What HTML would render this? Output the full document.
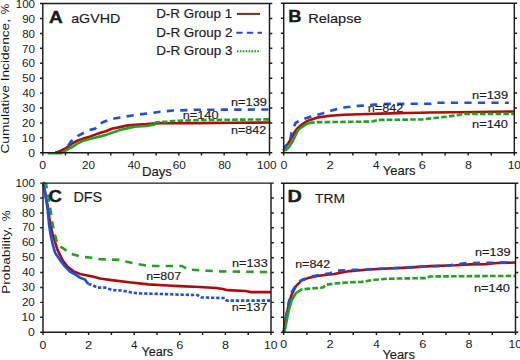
<!DOCTYPE html>
<html><head><meta charset="utf-8"><style>
html,body{margin:0;padding:0;background:#fff;}
svg{display:block;}
text{font-family:"Liberation Sans",sans-serif;}
</style></head><body>
<svg width="520" height="360" viewBox="0 0 520 360">
<rect width="520" height="360" fill="#fff"/>
<polyline points="55.27,152.20 57.76,152.05 60.94,150.71 65.47,148.47 68.87,146.08 71.59,143.99 77.26,140.71 83.15,138.62 88.82,136.98 94.49,134.89 100.38,132.80 106.05,131.31 111.72,128.77 119.88,127.13 126.68,125.64 134.61,124.74 146.18,124.14 160.00,123.10 173.15,123.25 196.96,123.10 235.50,122.80 269.50,122.50" stroke="#b00a0a" stroke-width="2.6" fill="none" stroke-linejoin="round"/>
<polyline points="68.19,145.64 70.91,141.46 77.94,135.79 88.37,130.41 95.17,128.62 99.93,123.70 104.01,121.76 109.22,119.67 114.21,118.47 124.87,116.68 136.88,114.74 149.58,113.25 160.00,111.76 173.15,110.56 196.96,109.82 224.16,109.67 269.50,109.52" stroke="#1f50dc" stroke-width="2.6" fill="none" stroke-linejoin="round" stroke-dasharray="7.2 6.3"/>
<polyline points="47.79,153.25 61.39,153.10 66.83,149.96 72.27,146.98 77.26,143.70 83.15,140.86 88.82,139.22 94.49,137.73 100.38,136.38 106.05,134.89 111.94,132.80 119.88,130.11 126.68,128.47 134.61,126.68 146.18,125.94 154.11,124.74 154.79,123.40" stroke="#24a024" stroke-width="2.6" fill="none" stroke-linejoin="round"/>
<polyline points="154.79,123.40 155.24,122.50 167.49,121.61 173.15,121.01 201.49,119.97 269.50,119.37" stroke="#24a024" stroke-width="2.6" fill="none" stroke-linejoin="round" stroke-dasharray="5.6 2.2"/>
<polyline points="283.70,150.56 284.85,147.57 288.31,143.23 291.54,137.99 294.31,132.76 296.84,128.87 301.23,124.98 306.53,121.39 309.99,119.90 318.52,117.36 330.05,115.71 343.89,114.81 368.33,114.07 379.86,113.62 406.84,113.02 430.13,112.57 477.40,111.97 514.30,111.52" stroke="#b00a0a" stroke-width="2.6" fill="none" stroke-linejoin="round"/>
<polyline points="283.70,150.56 284.85,146.97 287.16,144.57 289.93,141.14 291.54,132.76 294.08,126.63 295.69,122.74 301.92,119.60 312.52,116.01 323.13,113.17 333.51,110.03 342.50,107.49 348.27,107.04 358.64,105.84 374.10,104.64 387.47,103.90 431.28,103.75 433.59,102.70 508.77,102.70" stroke="#1f50dc" stroke-width="2.6" fill="none" stroke-linejoin="round" stroke-dasharray="7.2 6.3"/>
<polyline points="283.70,150.56 286.24,149.81 289.46,146.37 292.69,141.14 295.69,134.85 298.00,130.07 301.00,127.68 306.30,124.09 309.07,123.19" stroke="#24a024" stroke-width="2.6" fill="none" stroke-linejoin="round"/>
<polyline points="309.07,123.19 309.99,122.89 316.68,122.14 340.20,121.99 372.48,121.54 378.25,119.90 422.06,119.45 426.67,118.85 447.43,116.61 458.96,114.96 463.57,113.92 514.30,113.92" stroke="#24a024" stroke-width="2.6" fill="none" stroke-linejoin="round" stroke-dasharray="5.6 2.2"/>
<polyline points="43.00,183.10 43.91,184.59 45.74,195.77 48.24,208.89 50.07,223.36 52.58,233.79 55.08,242.14 57.59,250.19 62.61,260.18 67.40,266.45 73.78,271.52 79.94,273.90 92.48,276.44 100.00,278.52 111.40,280.16 128.96,282.25 148.34,284.34 167.72,285.53 179.80,286.13 199.41,287.02 216.28,288.07 222.89,288.96 227.68,290.15 245.92,291.05 250.48,292.09 271.00,292.09" stroke="#b00a0a" stroke-width="2.6" fill="none" stroke-linejoin="round"/>
<polyline points="43.00,183.10 44.14,187.57 47.56,208.89 49.16,225.59 50.75,235.43 53.03,245.72 55.08,252.73 60.10,260.18 64.89,266.45 69.90,271.52 76.29,275.09 79.94,277.63 84.95,279.57 86.78,282.25 88.37,283.89" stroke="#1f50dc" stroke-width="2.6" fill="none" stroke-linejoin="round"/>
<polyline points="88.37,283.89 92.48,285.08 97.49,287.62 105.02,287.62 112.54,290.15 121.20,290.45 128.96,291.94 136.71,293.28 158.14,293.88 179.80,294.63 197.58,295.07 201.46,297.46 224.72,298.06 226.77,300.59 271.00,300.59" stroke="#1f50dc" stroke-width="2.6" fill="none" stroke-linejoin="round" stroke-dasharray="3.3 1.9"/>
<polyline points="43.00,183.10 44.14,183.10 46.19,184.59 47.79,193.54 50.07,206.96 52.35,223.36 55.08,235.28 56.68,241.25 58.05,244.68 62.38,247.96 68.08,251.69 73.32,254.52 83.36,257.05 89.97,257.50 94.98,258.69 99.77,259.14 111.40,259.59 121.20,259.89 125.08,261.38 134.66,263.46 144.46,265.25 154.26,266.00 173.64,266.00 182.08,266.00 188.01,269.58 204.88,270.62 218.79,271.37 271.00,272.11" stroke="#24a024" stroke-width="2.6" fill="none" stroke-linejoin="round" stroke-dasharray="7.4 6.2"/>
<polyline points="283.70,332.20 285.00,323.41 286.90,313.57 288.89,303.88 291.81,294.19 295.75,286.44 301.55,280.63 309.20,277.65 318.93,275.71 334.00,273.92 349.76,271.09 369.00,269.45 388.24,268.56 407.48,267.66 430.43,266.17 455.23,265.28 470.53,264.38 485.37,264.23 496.96,263.04 515.50,262.44" stroke="#b00a0a" stroke-width="2.6" fill="none" stroke-linejoin="round"/>
<polyline points="283.70,332.20 285.00,322.51 286.90,312.08 288.89,301.64 291.81,291.96 295.75,285.25 301.55,280.03 309.20,277.05 318.93,274.96 330.06,273.18 337.71,270.64 353.24,269.90 376.42,269.00 399.60,267.81 422.78,266.62 445.96,265.72 466.82,263.04 492.32,262.74 515.50,262.44" stroke="#1f50dc" stroke-width="2.6" fill="none" stroke-linejoin="round" stroke-dasharray="7.2 6.3"/>
<polyline points="283.70,332.20 285.00,329.22 286.90,319.68 288.89,309.84 291.81,300.15 295.75,293.30 297.61,292.06" stroke="#24a024" stroke-width="2.6" fill="none" stroke-linejoin="round"/>
<polyline points="297.61,292.06 301.55,289.42 313.14,288.38 322.87,287.49 325.89,284.80 334.00,283.61 349.76,282.27 361.35,281.97 372.94,280.03 388.01,278.69 425.10,278.09 429.73,276.46 515.50,275.86" stroke="#24a024" stroke-width="2.6" fill="none" stroke-linejoin="round" stroke-dasharray="5.6 2.2"/>
<path d="M40.00,3.55H272.30M40.00,152.80H272.30M42.80,3.55V155.60M269.50,3.55V155.60M40.00,137.88h2.80M269.50,137.88h2.80M40.00,122.95h2.80M269.50,122.95h2.80M40.00,108.03h2.80M269.50,108.03h2.80M40.00,93.10h2.80M269.50,93.10h2.80M40.00,78.18h2.80M269.50,78.18h2.80M40.00,63.25h2.80M269.50,63.25h2.80M40.00,48.33h2.80M269.50,48.33h2.80M40.00,33.40h2.80M269.50,33.40h2.80M40.00,18.48h2.80M269.50,18.48h2.80M65.47,152.80v2.80M88.14,152.80v2.80M110.81,152.80v2.80M133.48,152.80v2.80M156.15,152.80v2.80M178.82,152.80v2.80M201.49,152.80v2.80M224.16,152.80v2.80M246.83,152.80v2.80M269.50,152.80v2.80" stroke="#1c1c1c" stroke-width="1.45" fill="none"/>
<path d="M280.90,3.25H517.10M280.90,152.80H517.10M283.70,3.25V155.60M514.30,3.25V155.60M280.90,137.84h2.80M514.30,137.84h2.80M280.90,122.89h2.80M514.30,122.89h2.80M280.90,107.94h2.80M514.30,107.94h2.80M280.90,92.98h2.80M514.30,92.98h2.80M280.90,78.03h2.80M514.30,78.03h2.80M280.90,63.07h2.80M514.30,63.07h2.80M280.90,48.12h2.80M514.30,48.12h2.80M280.90,33.16h2.80M514.30,33.16h2.80M280.90,18.20h2.80M514.30,18.20h2.80M306.76,152.80v2.80M329.82,152.80v2.80M352.88,152.80v2.80M375.94,152.80v2.80M399.00,152.80v2.80M422.06,152.80v2.80M445.12,152.80v2.80M468.18,152.80v2.80M491.24,152.80v2.80M514.30,152.80v2.80" stroke="#1c1c1c" stroke-width="1.45" fill="none"/>
<path d="M40.20,183.10H273.80M40.20,332.20H273.80M43.00,183.10V335.00M271.00,183.10V335.00M40.20,317.29h2.80M271.00,317.29h2.80M40.20,302.38h2.80M271.00,302.38h2.80M40.20,287.47h2.80M271.00,287.47h2.80M40.20,272.56h2.80M271.00,272.56h2.80M40.20,257.65h2.80M271.00,257.65h2.80M40.20,242.74h2.80M271.00,242.74h2.80M40.20,227.83h2.80M271.00,227.83h2.80M40.20,212.92h2.80M271.00,212.92h2.80M40.20,198.01h2.80M271.00,198.01h2.80M65.80,332.20v2.80M88.60,332.20v2.80M111.40,332.20v2.80M134.20,332.20v2.80M157.00,332.20v2.80M179.80,332.20v2.80M202.60,332.20v2.80M225.40,332.20v2.80M248.20,332.20v2.80M271.00,332.20v2.80" stroke="#1c1c1c" stroke-width="1.45" fill="none"/>
<path d="M280.90,183.15H518.30M280.90,332.20H518.30M283.70,183.15V335.00M515.50,183.15V335.00M280.90,317.30h2.80M515.50,317.30h2.80M280.90,302.39h2.80M515.50,302.39h2.80M280.90,287.49h2.80M515.50,287.49h2.80M280.90,272.58h2.80M515.50,272.58h2.80M280.90,257.68h2.80M515.50,257.68h2.80M280.90,242.77h2.80M515.50,242.77h2.80M280.90,227.87h2.80M515.50,227.87h2.80M280.90,212.96h2.80M515.50,212.96h2.80M280.90,198.06h2.80M515.50,198.06h2.80M306.88,332.20v2.80M330.06,332.20v2.80M353.24,332.20v2.80M376.42,332.20v2.80M399.60,332.20v2.80M422.78,332.20v2.80M445.96,332.20v2.80M469.14,332.20v2.80M492.32,332.20v2.80M515.50,332.20v2.80" stroke="#1c1c1c" stroke-width="1.45" fill="none"/>
<line x1="236.9" y1="13.9" x2="260" y2="13.9" stroke="#7c2810" stroke-width="2"/>
<line x1="236.3" y1="32.7" x2="262" y2="32.7" stroke="#2a48c8" stroke-width="2" stroke-dasharray="6.3 4.3"/>
<line x1="236.9" y1="51.3" x2="260.4" y2="51.3" stroke="#2f9a2f" stroke-width="2" stroke-dasharray="1.7 1.2"/>
<text x="48.92" y="22.50" font-size="16.86" font-weight="bold" textLength="13.78" lengthAdjust="spacingAndGlyphs" fill="#1a1a1a" stroke="#1a1a1a" stroke-width="0.4">A</text>
<text x="288.17" y="22.30" font-size="16.57" font-weight="bold" textLength="13.26" lengthAdjust="spacingAndGlyphs" fill="#1a1a1a" stroke="#1a1a1a" stroke-width="0.4">B</text>
<text x="48.44" y="202.30" font-size="16.47" font-weight="bold" textLength="13.37" lengthAdjust="spacingAndGlyphs" fill="#1a1a1a" stroke="#1a1a1a" stroke-width="0.4">C</text>
<text x="287.47" y="202.30" font-size="16.86" font-weight="bold" textLength="14.37" lengthAdjust="spacingAndGlyphs" fill="#1a1a1a" stroke="#1a1a1a" stroke-width="0.4">D</text>
<text x="71.20" y="22.60" font-size="13.03" font-weight="normal" textLength="48.98" lengthAdjust="spacingAndGlyphs" fill="#1a1a1a" stroke="#1a1a1a" stroke-width="0.15">aGVHD</text>
<text x="308.21" y="23.20" font-size="12.42" font-weight="normal" textLength="53.34" lengthAdjust="spacingAndGlyphs" fill="#1a1a1a" stroke="#1a1a1a" stroke-width="0.15">Relapse</text>
<text x="73.42" y="202.40" font-size="13.75" font-weight="normal" textLength="28.74" lengthAdjust="spacingAndGlyphs" fill="#1a1a1a" stroke="#1a1a1a" stroke-width="0.15">DFS</text>
<text x="315.09" y="203.00" font-size="13.66" font-weight="normal" textLength="29.84" lengthAdjust="spacingAndGlyphs" fill="#1a1a1a" stroke="#1a1a1a" stroke-width="0.15">TRM</text>
<text x="156.20" y="18.10" font-size="12.17" font-weight="normal" textLength="75.95" lengthAdjust="spacingAndGlyphs" fill="#1a1a1a" stroke="#1a1a1a" stroke-width="0.15">D-R Group 1</text>
<text x="156.19" y="36.50" font-size="12.03" font-weight="normal" textLength="76.38" lengthAdjust="spacingAndGlyphs" fill="#1a1a1a" stroke="#1a1a1a" stroke-width="0.15">D-R Group 2</text>
<text x="156.20" y="55.00" font-size="12.17" font-weight="normal" textLength="76.30" lengthAdjust="spacingAndGlyphs" fill="#1a1a1a" stroke="#1a1a1a" stroke-width="0.15">D-R Group 3</text>
<text x="231.05" y="105.90" font-size="10.17" font-weight="normal" textLength="35.75" lengthAdjust="spacingAndGlyphs" fill="#1a1a1a" stroke="#1a1a1a" stroke-width="0.15">n=139</text>
<text x="182.65" y="118.70" font-size="10.74" font-weight="normal" textLength="35.85" lengthAdjust="spacingAndGlyphs" fill="#1a1a1a" stroke="#1a1a1a" stroke-width="0.15">n=140</text>
<text x="231.07" y="133.90" font-size="10.88" font-weight="normal" textLength="35.06" lengthAdjust="spacingAndGlyphs" fill="#1a1a1a" stroke="#1a1a1a" stroke-width="0.15">n=842</text>
<text x="472.05" y="98.80" font-size="10.45" font-weight="normal" textLength="36.06" lengthAdjust="spacingAndGlyphs" fill="#1a1a1a" stroke="#1a1a1a" stroke-width="0.15">n=139</text>
<text x="367.66" y="111.70" font-size="11.03" font-weight="normal" textLength="35.68" lengthAdjust="spacingAndGlyphs" fill="#1a1a1a" stroke="#1a1a1a" stroke-width="0.15">n=842</text>
<text x="472.05" y="128.10" font-size="11.03" font-weight="normal" textLength="35.95" lengthAdjust="spacingAndGlyphs" fill="#1a1a1a" stroke="#1a1a1a" stroke-width="0.15">n=140</text>
<text x="232.06" y="266.80" font-size="10.45" font-weight="normal" textLength="35.70" lengthAdjust="spacingAndGlyphs" fill="#1a1a1a" stroke="#1a1a1a" stroke-width="0.15">n=133</text>
<text x="146.17" y="279.60" font-size="10.31" font-weight="normal" textLength="34.95" lengthAdjust="spacingAndGlyphs" fill="#1a1a1a" stroke="#1a1a1a" stroke-width="0.15">n=807</text>
<text x="231.66" y="310.50" font-size="10.17" font-weight="normal" textLength="35.58" lengthAdjust="spacingAndGlyphs" fill="#1a1a1a" stroke="#1a1a1a" stroke-width="0.15">n=137</text>
<text x="295.17" y="267.90" font-size="10.74" font-weight="normal" textLength="35.06" lengthAdjust="spacingAndGlyphs" fill="#1a1a1a" stroke="#1a1a1a" stroke-width="0.15">n=842</text>
<text x="474.96" y="255.80" font-size="10.17" font-weight="normal" textLength="35.64" lengthAdjust="spacingAndGlyphs" fill="#1a1a1a" stroke="#1a1a1a" stroke-width="0.15">n=139</text>
<text x="473.95" y="291.50" font-size="11.03" font-weight="normal" textLength="35.95" lengthAdjust="spacingAndGlyphs" fill="#1a1a1a" stroke="#1a1a1a" stroke-width="0.15">n=140</text>
<text x="141.92" y="176.00" font-size="11.92" font-weight="normal" textLength="30.06" lengthAdjust="spacingAndGlyphs" fill="#1a1a1a" stroke="#1a1a1a" stroke-width="0.15">Days</text>
<text x="382.82" y="175.40" font-size="12.35" font-weight="normal" textLength="32.73" lengthAdjust="spacingAndGlyphs" fill="#1a1a1a" stroke="#1a1a1a" stroke-width="0.15">Years</text>
<text x="141.43" y="355.70" font-size="12.65" font-weight="normal" textLength="31.71" lengthAdjust="spacingAndGlyphs" fill="#1a1a1a" stroke="#1a1a1a" stroke-width="0.15">Years</text>
<text x="382.43" y="359.30" font-size="12.21" font-weight="normal" textLength="32.42" lengthAdjust="spacingAndGlyphs" fill="#1a1a1a" stroke="#1a1a1a" stroke-width="0.15">Years</text>
<text transform="rotate(-90)" x="-153.59" y="9.40" font-size="11.59" textLength="134.62" lengthAdjust="spacingAndGlyphs" fill="#111" stroke="#111" stroke-width="0.0">Cumulative Incidence,</text>
<text transform="rotate(-90)" x="-14.17" y="9.20" font-size="10.95" textLength="10.38" lengthAdjust="spacingAndGlyphs" fill="#111" stroke="#111" stroke-width="0.0">%</text>
<text transform="rotate(-90)" x="-293.91" y="9.60" font-size="11.73" textLength="67.13" lengthAdjust="spacingAndGlyphs" fill="#111" stroke="#111" stroke-width="0.0">Probability,</text>
<text transform="rotate(-90)" x="-221.34" y="10.30" font-size="11.24" textLength="10.87" lengthAdjust="spacingAndGlyphs" fill="#111" stroke="#111" stroke-width="0.0">%</text>
<text x="39.37" y="168.90" font-size="10.88" font-weight="normal" textLength="6.86" lengthAdjust="spacingAndGlyphs" fill="#1a1a1a" stroke="#1a1a1a" stroke-width="0.0">0</text>
<text x="82.05" y="168.90" font-size="10.88" font-weight="normal" textLength="13.05" lengthAdjust="spacingAndGlyphs" fill="#1a1a1a" stroke="#1a1a1a" stroke-width="0.0">20</text>
<text x="127.72" y="168.90" font-size="10.88" font-weight="normal" textLength="12.71" lengthAdjust="spacingAndGlyphs" fill="#1a1a1a" stroke="#1a1a1a" stroke-width="0.0">40</text>
<text x="172.72" y="168.90" font-size="10.88" font-weight="normal" textLength="13.05" lengthAdjust="spacingAndGlyphs" fill="#1a1a1a" stroke="#1a1a1a" stroke-width="0.0">60</text>
<text x="218.15" y="168.90" font-size="10.88" font-weight="normal" textLength="12.96" lengthAdjust="spacingAndGlyphs" fill="#1a1a1a" stroke="#1a1a1a" stroke-width="0.0">80</text>
<text x="256.96" y="168.90" font-size="10.88" font-weight="normal" textLength="19.44" lengthAdjust="spacingAndGlyphs" fill="#1a1a1a" stroke="#1a1a1a" stroke-width="0.0">100</text>
<text x="280.57" y="168.90" font-size="10.88" font-weight="normal" textLength="6.86" lengthAdjust="spacingAndGlyphs" fill="#1a1a1a" stroke="#1a1a1a" stroke-width="0.0">0</text>
<text x="326.52" y="168.90" font-size="10.88" font-weight="normal" textLength="7.20" lengthAdjust="spacingAndGlyphs" fill="#1a1a1a" stroke="#1a1a1a" stroke-width="0.0">2</text>
<text x="373.02" y="168.90" font-size="11.05" font-weight="normal" textLength="6.51" lengthAdjust="spacingAndGlyphs" fill="#1a1a1a" stroke="#1a1a1a" stroke-width="0.0">4</text>
<text x="418.76" y="168.90" font-size="10.88" font-weight="normal" textLength="7.11" lengthAdjust="spacingAndGlyphs" fill="#1a1a1a" stroke="#1a1a1a" stroke-width="0.0">6</text>
<text x="464.98" y="168.90" font-size="10.88" font-weight="normal" textLength="6.99" lengthAdjust="spacingAndGlyphs" fill="#1a1a1a" stroke="#1a1a1a" stroke-width="0.0">8</text>
<text x="507.68" y="168.90" font-size="10.88" font-weight="normal" textLength="13.39" lengthAdjust="spacingAndGlyphs" fill="#1a1a1a" stroke="#1a1a1a" stroke-width="0.0">10</text>
<text x="39.57" y="348.60" font-size="10.45" font-weight="normal" textLength="6.86" lengthAdjust="spacingAndGlyphs" fill="#1a1a1a" stroke="#1a1a1a" stroke-width="0.0">0</text>
<text x="85.00" y="348.60" font-size="10.45" font-weight="normal" textLength="7.20" lengthAdjust="spacingAndGlyphs" fill="#1a1a1a" stroke="#1a1a1a" stroke-width="0.0">2</text>
<text x="130.98" y="348.60" font-size="10.61" font-weight="normal" textLength="6.51" lengthAdjust="spacingAndGlyphs" fill="#1a1a1a" stroke="#1a1a1a" stroke-width="0.0">4</text>
<text x="176.20" y="348.60" font-size="10.45" font-weight="normal" textLength="7.11" lengthAdjust="spacingAndGlyphs" fill="#1a1a1a" stroke="#1a1a1a" stroke-width="0.0">6</text>
<text x="221.90" y="348.60" font-size="10.45" font-weight="normal" textLength="6.99" lengthAdjust="spacingAndGlyphs" fill="#1a1a1a" stroke="#1a1a1a" stroke-width="0.0">8</text>
<text x="264.08" y="348.60" font-size="10.45" font-weight="normal" textLength="13.39" lengthAdjust="spacingAndGlyphs" fill="#1a1a1a" stroke="#1a1a1a" stroke-width="0.0">10</text>
<text x="280.27" y="348.20" font-size="10.31" font-weight="normal" textLength="6.86" lengthAdjust="spacingAndGlyphs" fill="#1a1a1a" stroke="#1a1a1a" stroke-width="0.0">0</text>
<text x="326.46" y="348.20" font-size="10.31" font-weight="normal" textLength="7.20" lengthAdjust="spacingAndGlyphs" fill="#1a1a1a" stroke="#1a1a1a" stroke-width="0.0">2</text>
<text x="373.20" y="348.20" font-size="10.47" font-weight="normal" textLength="6.51" lengthAdjust="spacingAndGlyphs" fill="#1a1a1a" stroke="#1a1a1a" stroke-width="0.0">4</text>
<text x="419.18" y="348.20" font-size="10.31" font-weight="normal" textLength="7.11" lengthAdjust="spacingAndGlyphs" fill="#1a1a1a" stroke="#1a1a1a" stroke-width="0.0">6</text>
<text x="465.64" y="348.20" font-size="10.31" font-weight="normal" textLength="6.99" lengthAdjust="spacingAndGlyphs" fill="#1a1a1a" stroke="#1a1a1a" stroke-width="0.0">8</text>
<text x="508.58" y="348.20" font-size="10.31" font-weight="normal" textLength="13.39" lengthAdjust="spacingAndGlyphs" fill="#1a1a1a" stroke="#1a1a1a" stroke-width="0.0">10</text>
<text x="28.27" y="157.00" font-size="10.88" font-weight="normal" textLength="6.81" lengthAdjust="spacingAndGlyphs" fill="#1a1a1a" stroke="#1a1a1a" stroke-width="0.0">0</text>
<text x="21.79" y="142.08" font-size="10.88" font-weight="normal" textLength="13.28" lengthAdjust="spacingAndGlyphs" fill="#1a1a1a" stroke="#1a1a1a" stroke-width="0.0">10</text>
<text x="22.11" y="127.15" font-size="10.88" font-weight="normal" textLength="12.94" lengthAdjust="spacingAndGlyphs" fill="#1a1a1a" stroke="#1a1a1a" stroke-width="0.0">20</text>
<text x="22.26" y="112.23" font-size="10.88" font-weight="normal" textLength="12.79" lengthAdjust="spacingAndGlyphs" fill="#1a1a1a" stroke="#1a1a1a" stroke-width="0.0">30</text>
<text x="22.44" y="97.30" font-size="10.88" font-weight="normal" textLength="12.60" lengthAdjust="spacingAndGlyphs" fill="#1a1a1a" stroke="#1a1a1a" stroke-width="0.0">40</text>
<text x="22.24" y="82.38" font-size="10.88" font-weight="normal" textLength="12.81" lengthAdjust="spacingAndGlyphs" fill="#1a1a1a" stroke="#1a1a1a" stroke-width="0.0">50</text>
<text x="22.11" y="67.45" font-size="10.88" font-weight="normal" textLength="12.95" lengthAdjust="spacingAndGlyphs" fill="#1a1a1a" stroke="#1a1a1a" stroke-width="0.0">60</text>
<text x="22.10" y="52.53" font-size="10.88" font-weight="normal" textLength="12.95" lengthAdjust="spacingAndGlyphs" fill="#1a1a1a" stroke="#1a1a1a" stroke-width="0.0">70</text>
<text x="22.20" y="37.60" font-size="10.88" font-weight="normal" textLength="12.85" lengthAdjust="spacingAndGlyphs" fill="#1a1a1a" stroke="#1a1a1a" stroke-width="0.0">80</text>
<text x="22.16" y="22.68" font-size="10.88" font-weight="normal" textLength="12.90" lengthAdjust="spacingAndGlyphs" fill="#1a1a1a" stroke="#1a1a1a" stroke-width="0.0">90</text>
<text x="15.77" y="7.75" font-size="10.88" font-weight="normal" textLength="19.28" lengthAdjust="spacingAndGlyphs" fill="#1a1a1a" stroke="#1a1a1a" stroke-width="0.0">100</text>
<text x="28.07" y="335.80" font-size="10.88" font-weight="normal" textLength="6.81" lengthAdjust="spacingAndGlyphs" fill="#1a1a1a" stroke="#1a1a1a" stroke-width="0.0">0</text>
<text x="21.59" y="320.89" font-size="10.88" font-weight="normal" textLength="13.28" lengthAdjust="spacingAndGlyphs" fill="#1a1a1a" stroke="#1a1a1a" stroke-width="0.0">10</text>
<text x="21.91" y="305.98" font-size="10.88" font-weight="normal" textLength="12.94" lengthAdjust="spacingAndGlyphs" fill="#1a1a1a" stroke="#1a1a1a" stroke-width="0.0">20</text>
<text x="22.06" y="291.07" font-size="10.88" font-weight="normal" textLength="12.79" lengthAdjust="spacingAndGlyphs" fill="#1a1a1a" stroke="#1a1a1a" stroke-width="0.0">30</text>
<text x="22.24" y="276.16" font-size="10.88" font-weight="normal" textLength="12.60" lengthAdjust="spacingAndGlyphs" fill="#1a1a1a" stroke="#1a1a1a" stroke-width="0.0">40</text>
<text x="22.04" y="261.25" font-size="10.88" font-weight="normal" textLength="12.81" lengthAdjust="spacingAndGlyphs" fill="#1a1a1a" stroke="#1a1a1a" stroke-width="0.0">50</text>
<text x="21.91" y="246.34" font-size="10.88" font-weight="normal" textLength="12.95" lengthAdjust="spacingAndGlyphs" fill="#1a1a1a" stroke="#1a1a1a" stroke-width="0.0">60</text>
<text x="21.90" y="231.43" font-size="10.88" font-weight="normal" textLength="12.95" lengthAdjust="spacingAndGlyphs" fill="#1a1a1a" stroke="#1a1a1a" stroke-width="0.0">70</text>
<text x="22.00" y="216.52" font-size="10.88" font-weight="normal" textLength="12.85" lengthAdjust="spacingAndGlyphs" fill="#1a1a1a" stroke="#1a1a1a" stroke-width="0.0">80</text>
<text x="21.96" y="201.61" font-size="10.88" font-weight="normal" textLength="12.90" lengthAdjust="spacingAndGlyphs" fill="#1a1a1a" stroke="#1a1a1a" stroke-width="0.0">90</text>
<text x="15.57" y="186.70" font-size="10.88" font-weight="normal" textLength="19.28" lengthAdjust="spacingAndGlyphs" fill="#1a1a1a" stroke="#1a1a1a" stroke-width="0.0">100</text>
</svg>
</body></html>
